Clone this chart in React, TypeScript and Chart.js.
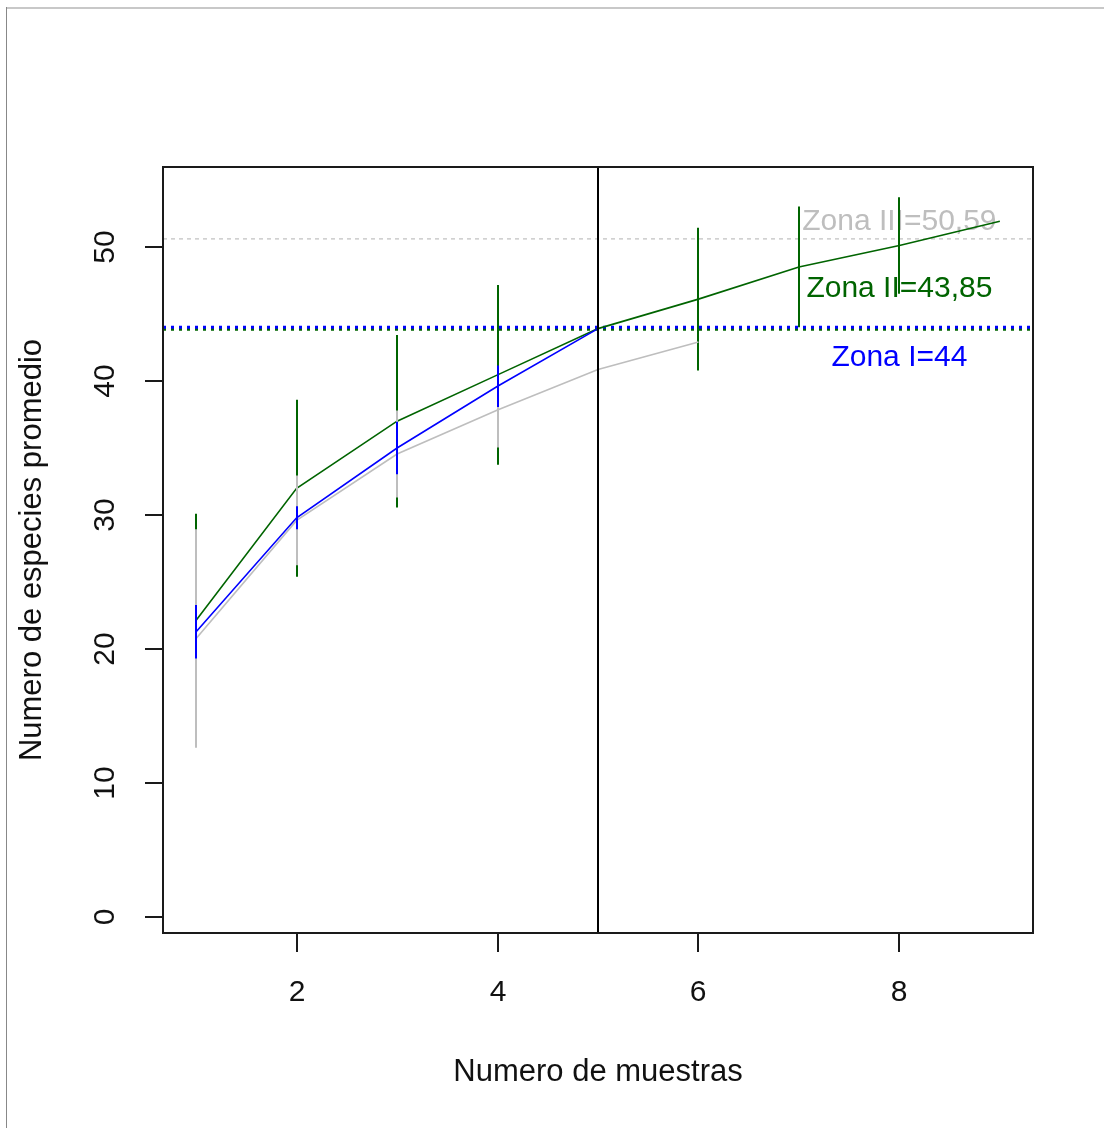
import React, { useEffect, useRef } from "react";
import { Chart, registerables } from "chart.js";

Chart.register(...registerables);

// ---- data ----
const samples = [1, 2, 3, 4, 5, 6, 7, 8, 9];
const zonaIMean = [21.3, 29.8, 35.0, 39.6, 43.9];
const zonaISd = [2.0, 0.85, 1.95, 1.55, 0];
const zonaIIMean = [22.15, 32.0, 37.0, 40.45, 43.9, 46.1, 48.5, 50.1, 51.9];
const zonaIISd = [7.95, 6.6, 6.43, 6.7, 0, 5.33, 4.5, 3.6, 0];
const zonaIIIMean = [20.8, 29.6, 34.55, 37.83, 40.85, 42.9];
const zonaIIISd = [8.15, 3.35, 3.24, 2.8, 0, 0];
const refZonaI = 44;
const refZonaII = 43.85;
const refZonaIII = 50.59;
const xTicks = [2, 4, 6, 8];
const yTicks = [0, 10, 20, 30, 40, 50];
const zoneLabels = ["Zona I=44", "Zona II=43,85", "Zona III=50,59"];
const zoneLabelY = [41.75, 46.85, 51.9];
const zoneLabelX = 8;
const cutX = 5;
const xLimits = [0.67, 9.33];
const yLimits = [-1.16, 55.95];
const xTitle = "Numero de muestras";
const yTitle = "Numero de especies promedio";

const GRAY = "#BEBEBE";
const BLUE = "#0000FF";
const GREEN = "#006400";
const FONT = "30px 'Liberation Sans', Arial, sans-serif";
const TITLE_FONT = "31px 'Liberation Sans', Arial, sans-serif";

const pts = (ys: number[]) => ys.map((y, i) => ({ x: samples[i], y }));
const hline = (y: number) => [
  { x: xLimits[0], y },
  { x: xLimits[1], y },
];

const rPlugin = {
  id: "rstyle",
  beforeDraw(chart: any) {
    const ctx = chart.ctx;
    ctx.save();
    ctx.fillStyle = "#ffffff";
    ctx.fillRect(0, 0, chart.width, chart.height);
    ctx.fillStyle = "#c8c8c8";
    ctx.fillRect(6, 7, chart.width - 6, 2);
    ctx.fillStyle = "#888888";
    ctx.fillRect(6, 7, 1, chart.height - 7);
    ctx.restore();
  },
  beforeDatasetsDraw(chart: any) {
    const ctx = chart.ctx;
    const xs = chart.scales.x;
    const ys = chart.scales.y;
    const colors = [BLUE, GREEN, GRAY];
    ctx.save();
    ctx.font = FONT;
    ctx.textAlign = "center";
    ctx.textBaseline = "middle";
    zoneLabels.forEach((t, i) => {
      ctx.fillStyle = colors[i];
      ctx.fillText(t, xs.getPixelForValue(zoneLabelX), ys.getPixelForValue(zoneLabelY[i]));
    });
    ctx.restore();
  },
  afterDatasetDraw(chart: any, args: any) {
    const ds: any = chart.data.datasets[args.index];
    if (!ds.sd) return;
    const ctx = chart.ctx;
    const xs = chart.scales.x;
    const ys = chart.scales.y;
    ctx.save();
    ctx.strokeStyle = ds.borderColor;
    ctx.lineWidth = 2;
    ds.data.forEach((p: any, i: number) => {
      const sd = ds.sd[i];
      if (!sd) return;
      const px = Math.round(xs.getPixelForValue(p.x));
      ctx.beginPath();
      ctx.moveTo(px, ys.getPixelForValue(p.y + sd));
      ctx.lineTo(px, ys.getPixelForValue(p.y - sd));
      ctx.stroke();
    });
    ctx.restore();
  },
  afterDatasetsDraw(chart: any) {
    const ctx = chart.ctx;
    const a = chart.chartArea;
    const px = Math.round(chart.scales.x.getPixelForValue(cutX));
    ctx.save();
    ctx.strokeStyle = "#000000";
    ctx.lineWidth = 2;
    ctx.beginPath();
    ctx.moveTo(px, a.top);
    ctx.lineTo(px, a.bottom);
    ctx.stroke();
    ctx.restore();
  },
  afterDraw(chart: any) {
    const ctx = chart.ctx;
    const a = chart.chartArea;
    const xs = chart.scales.x;
    const ys = chart.scales.y;
    ctx.save();
    ctx.strokeStyle = "#1a1a1a";
    ctx.lineWidth = 2;
    ctx.strokeRect(a.left, a.top, a.right - a.left, a.bottom - a.top);
    ctx.fillStyle = "#111111";
    ctx.font = FONT;
    ctx.textAlign = "center";
    ctx.textBaseline = "middle";
    xTicks.forEach((v) => {
      const px = Math.round(xs.getPixelForValue(v));
      ctx.beginPath();
      ctx.moveTo(px, a.bottom);
      ctx.lineTo(px, a.bottom + 19);
      ctx.stroke();
      ctx.fillText(String(v), px, 993);
    });
    yTicks.forEach((v) => {
      const py = Math.round(ys.getPixelForValue(v));
      ctx.beginPath();
      ctx.moveTo(a.left, py);
      ctx.lineTo(a.left - 18, py);
      ctx.stroke();
      ctx.save();
      ctx.translate(106, py);
      ctx.rotate(-Math.PI / 2);
      ctx.fillText(String(v), 0, 0);
      ctx.restore();
    });
    ctx.font = TITLE_FONT;
    ctx.fillText(xTitle, (a.left + a.right) / 2, 1072);
    ctx.save();
    ctx.translate(32, (a.top + a.bottom) / 2);
    ctx.rotate(-Math.PI / 2);
    ctx.fillText(yTitle, 0, 0);
    ctx.restore();
    ctx.restore();
  },
};

export default function App() {
  const ref = useRef<HTMLCanvasElement | null>(null);
  useEffect(() => {
    if (!ref.current) return;
    const line = (data: any[], color: string, order: number, extra: any = {}) => ({
      data,
      borderColor: color,
      backgroundColor: color,
      borderWidth: 1.6,
      pointRadius: 0,
      showLine: true,
      fill: false,
      tension: 0,
      order,
      ...extra,
    });
    const chart = new Chart(ref.current, {
      type: "scatter",
      data: {
        datasets: [
          line(hline(refZonaIII), GRAY, 7, { borderWidth: 1.2, borderDash: [4, 4] }),
          line(hline(refZonaII), GREEN, 6, { borderWidth: 3, borderDash: [3, 5] }),
          line(hline(refZonaI), BLUE, 5, { borderWidth: 3, borderDash: [3, 5] }),
          line(pts(zonaIIMean), GREEN, 3, { sd: zonaIISd }),
          line(pts(zonaIIIMean), GRAY, 2, { sd: zonaIIISd }),
          line(pts(zonaIMean), BLUE, 1, { sd: zonaISd }),
        ],
      },
      options: {
        animation: false,
        responsive: false,
        maintainAspectRatio: false,
        events: [],
        layout: { padding: { left: 163, top: 167, right: 71, bottom: 195 } },
        scales: {
          x: { type: "linear", min: xLimits[0], max: xLimits[1], display: false },
          y: { type: "linear", min: yLimits[0], max: yLimits[1], display: false },
        },
        plugins: {
          legend: { display: false },
          tooltip: { enabled: false },
        },
      } as any,
      plugins: [rPlugin as any],
    });
    return () => chart.destroy();
  }, []);
  return (
    <div style={{ position: "fixed", left: 0, top: 0, width: 1104, height: 1128, background: "#fff" }}>
      <canvas ref={ref} width={1104} height={1128} style={{ display: "block", width: 1104, height: 1128 }} />
    </div>
  );
}
